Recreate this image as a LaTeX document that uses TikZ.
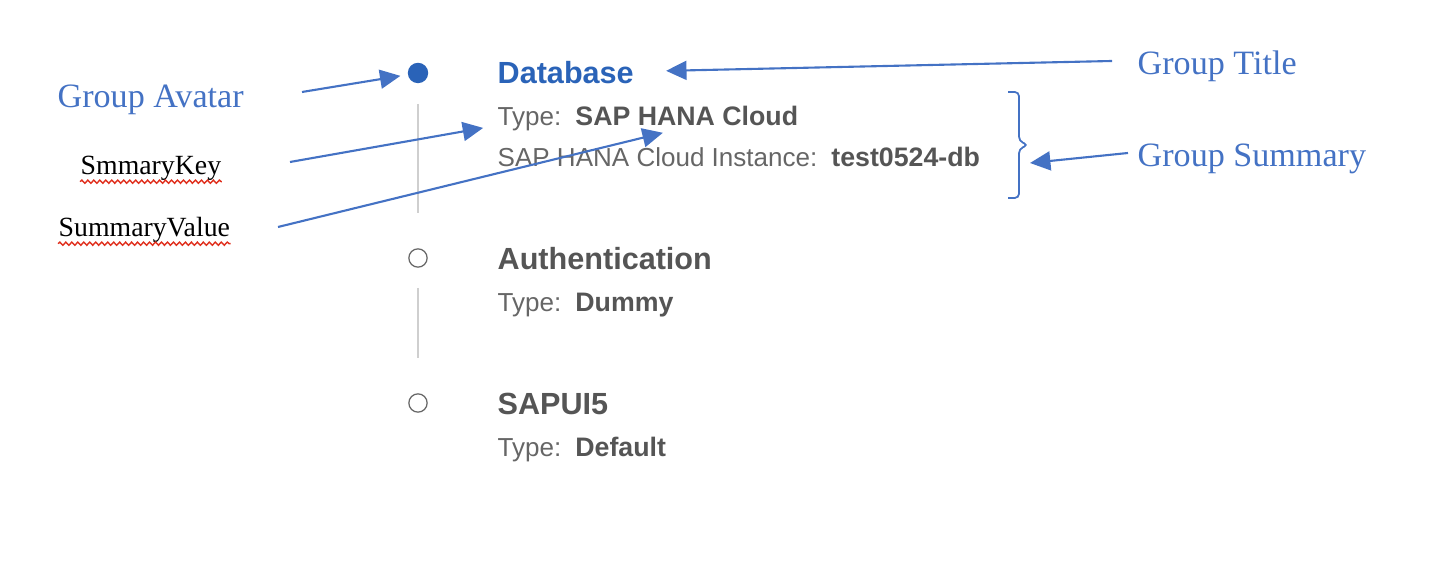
\documentclass[tikz,border=0pt]{standalone}
\usepackage{fontspec}
\setmainfont{Liberation Serif}
\newfontfamily\uifont{Liberation Sans}
\usetikzlibrary{arrows.meta,positioning,decorations.pathmorphing}
\definecolor{noteblue}{HTML}{4472C4}
\definecolor{selblue}{HTML}{2A63B8}
\definecolor{uigray}{HTML}{666666}
\definecolor{valgray}{HTML}{555555}
\definecolor{railgray}{HTML}{CFCFCF}
\definecolor{spellred}{HTML}{E0301E}

\begin{document}
\begin{tikzpicture}[x=0.01cm,y=-0.01cm,
  note/.style={anchor=base west,inner sep=0pt,text=noteblue,font=\fontsize{9.7}{11}\selectfont},
  spell/.style={anchor=base west,inner sep=0pt,font=\fontsize{7.9}{9}\selectfont},
  title/.style={anchor=base west,inner sep=0pt,font=\uifont\bfseries\fontsize{8.7}{10}\selectfont,text=valgray},
  key/.style={anchor=base west,inner sep=0pt,font=\uifont\fontsize{7.4}{9}\selectfont,text=uigray},
  value/.style={inner sep=0pt,font=\uifont\bfseries\fontsize{7.6}{9}\selectfont,text=valgray},
  avatar/.style={circle,draw=uigray,line width=0.35pt,minimum size=5.2pt,inner sep=0pt},
  callout/.style={noteblue,line width=0.6pt,-{Triangle[length=5.8pt,width=5.4pt]}},
  rail/.style={railgray,line width=0.5pt},
  wavy/.style={spellred,line width=0.4pt,decorate,decoration={snake,amplitude=0.45pt,segment length=1.7pt}}]
\useasboundingbox (0,0) rectangle (1446,574);

% steps
\node[avatar,fill=selblue,draw=none,minimum size=5.8pt] (dot1) at (418,73) {};
\node[avatar] (dot2) at (418,258) {};
\node[avatar] (dot3) at (418,403) {};
\draw[rail] ([yshift=-5.7pt]dot1.south) -- ([yshift=10pt]dot2.north);
\draw[rail] ([yshift=-5.7pt]dot2.south) -- ([yshift=10pt]dot3.north);

\node[title,text=selblue] (title1) at (497,84) {Database};
\node[key] (key1) at (497,126) {Type:};
\node[value,base right=3.6pt of key1] (val1) {SAP HANA Cloud};
\node[key] (key2) at (497,167) {SAP HANA Cloud Instance:};
\node[value,base right=3.6pt of key2] (val2) {test0524-db};

\node[title] (title2) at (497,270) {Authentication};
\node[key] (key3) at (497,312) {Type:};
\node[value,base right=3.6pt of key3] (val3) {Dummy};

\node[title] (title3) at (497,415) {SAPUI5};
\node[key] (key4) at (497,457) {Type:};
\node[value,base right=3.6pt of key4] (val4) {Default};

% summary bracket
\draw[noteblue,line width=0.5pt,rounded corners=1.2pt]
  (1008,92) -- (1019,92) -- (1019,141) -- (1028,145) -- (1019,149) -- (1019,198) -- (1008,198);

% notes
\node[note] (avatarnote) at (57,108) {Group Avatar};
\node[spell] (keynote) at (80,175) {SmmaryKey};
\node[spell] (valnote) at (58,237) {SummaryValue};
\node[note] (titlenote) at (1137,75) {Group Title};
\node[note] (sumnote) at (1137,167) {Group Summary};
\draw[wavy] (keynote.south west) -- (keynote.south east);
\draw[wavy] (valnote.south west) -- (valnote.south east);

\coordinate (avatartail) at (302,92);
\coordinate (keytail) at (290,162);
\coordinate (valtail) at (278,227);
\coordinate (titletail) at (1112,61);
\coordinate (sumtail) at (1128,153);
\coordinate (bracepoint) at (1030,163);

\draw[callout,shorten >=2pt] (avatartail) -- (dot1);
\draw[callout,shorten >=4pt] (keytail) -- (key1);
\draw[callout,shorten >=7pt] (valtail) -- (val1.south);
\draw[callout,shorten >=9pt] (titletail) -- (title1);
\draw[callout] (sumtail) -- (bracepoint);
\end{tikzpicture}
\end{document}
